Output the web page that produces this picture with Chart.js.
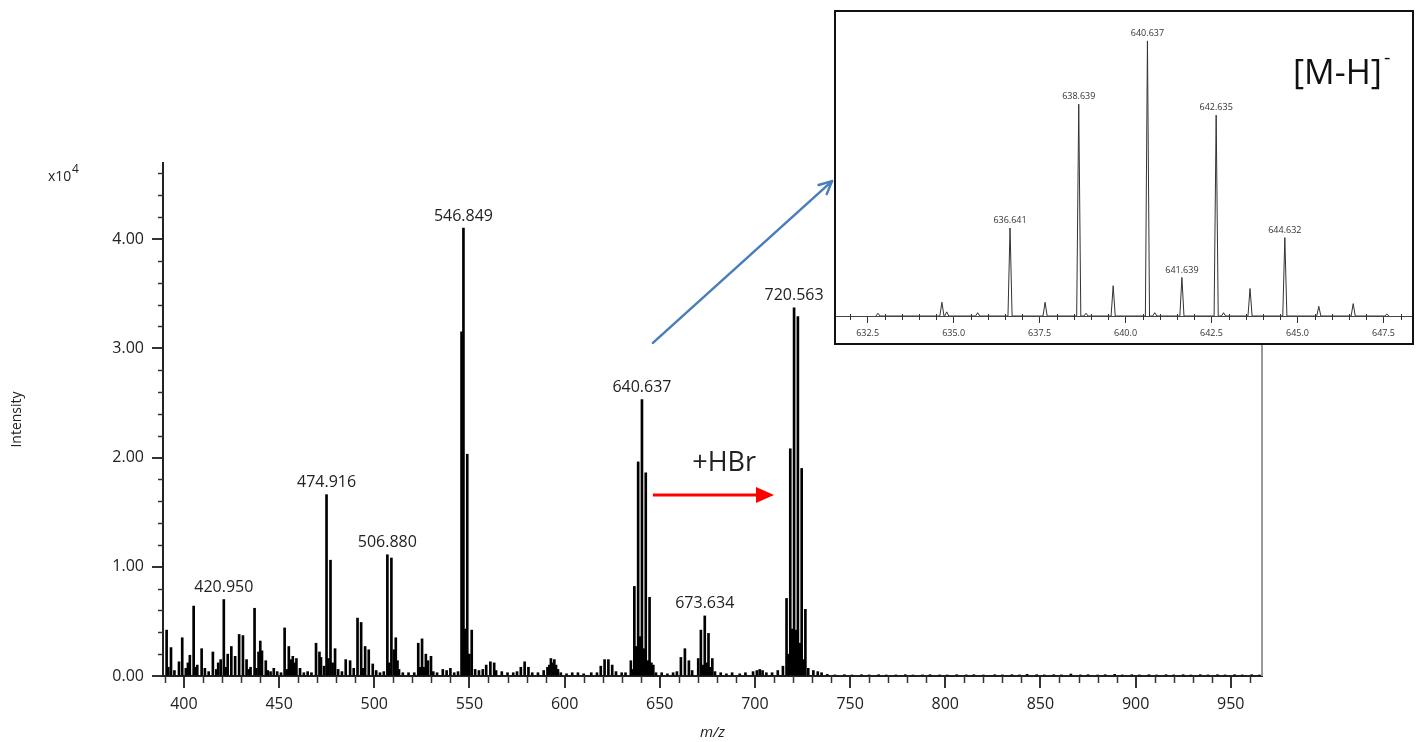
<!DOCTYPE html>
<html>
<head>
<meta charset="utf-8">
<script src="https://cdn.jsdelivr.net/npm/chart.js@4.4.1/dist/chart.umd.min.js"></script>
<style>
  body { margin: 0; background: #fff; }
  #wrap { position: relative; width: 1422px; height: 742px; }
  #main { position: absolute; left: 0; top: 0; }
  #insetBox { position: absolute; left: 834px; top: 10px; width: 580px; height: 335px;
              border: 2px solid #111; box-sizing: border-box; background: #fff; }
</style>
</head>
<body>
<div id="wrap">
  <canvas id="main" width="1422" height="742"></canvas>
  <div id="insetBox"><canvas id="inset" width="576" height="331"></canvas></div>
</div>
<script>
// main spectrum: m/z and intensity (x10^4)
const mainMz = [
  390.9, 391.8, 393.2, 395.0, 397.4, 399.1, 401.0, 402.1, 403.1, 405.1, 406.2, 407.0, 409.3, 411.0, 413.0,
  415.2, 417.0, 418.0, 419.3, 420.950, 421.9, 423.0, 424.9, 426.9, 429.0, 431.0, 432.9, 434.0, 435.0, 437.1,
  438.0, 439.2, 440.1, 441.0, 443.0, 444.0, 445.5, 447.2, 449.0, 451.0, 452.9, 454.0, 455.1, 456.2, 457.2,
  458.1, 459.1, 461.0, 463.0, 465.0, 467.0, 469.4, 471.2, 472.0, 473.6, 474.916, 475.9, 477.0, 478.1, 479.4,
  481.0, 483.0, 485.0, 487.3, 489.2, 491.2, 493.1, 494.0, 495.2, 497.1, 499.2, 501.0, 503.0, 505.0, 506.880,
  507.9, 509.0, 510.3, 511.3, 512.2, 513.0, 515.0, 518.0, 521.0, 523.1, 524.0, 525.1, 526.0, 527.1, 528.2,
  529.8, 531.0, 533.0, 536.0, 538.0, 540.0, 542.0, 544.0, 545.85, 546.3, 546.849, 547.4, 547.85, 548.85, 549.3,
  550.0, 551.2, 553.0, 555.0, 557.0, 558.8, 561.0, 563.0, 564.0, 567.0, 570.0, 573.0, 575.0, 577.0, 579.0,
  581.0, 583.0, 586.0, 589.0, 591.0, 592.0, 592.8, 593.7, 594.6, 595.5, 596.5, 598.0, 601.0, 604.0, 607.0,
  610.0, 614.0, 617.0, 619.0, 621.0, 623.0, 625.0, 627.0, 630.0, 632.0, 634.8, 635.6, 636.641, 637.64, 638.639,
  639.64, 640.637, 641.64, 642.635, 643.64, 644.632, 645.6, 646.6, 648.0, 651.0, 654.0, 657.0, 659.0, 661.1,
  663.2, 665.3, 667.0, 670.2, 671.6, 672.6, 673.634, 674.6, 675.6, 676.6, 677.6, 679.0, 682.0, 685.0, 688.0,
  692.0, 695.0, 699.0, 701.0, 702.5, 704.0, 706.0, 709.0, 712.0, 714.7, 716.6, 717.6, 718.56, 719.6, 720.563,
  721.6, 722.56, 723.6, 724.56, 725.6, 726.5, 728.0, 730.7, 733.0, 735.0, 738.0, 742.0, 747.0, 751.0, 756.0,
  760.0, 765.0, 769.0, 774.0, 779.0, 783.0, 788.0, 792.0, 797.0, 801.0, 806.0, 811.0, 815.0, 820.0, 826.0,
  830.0, 835.0, 839.0, 843.0, 848.0, 852.0, 857.0, 861.0, 866.0, 871.0, 875.0, 880.0, 884.0, 889.0, 893.0,
  898.0, 902.0, 907.0, 911.0, 916.0, 920.0, 925.0, 929.0, 934.0, 938.0, 943.0, 947.0, 952.0, 956.0, 961.0, 965.0
];
const mainInt = [
  0.42, 0.08, 0.26, 0.05, 0.13, 0.35, 0.07, 0.12, 0.19, 0.64, 0.08, 0.10, 0.25, 0.07, 0.04,
  0.22, 0.06, 0.12, 0.15, 0.70, 0.08, 0.20, 0.27, 0.18, 0.38, 0.37, 0.15, 0.06, 0.08, 0.62,
  0.07, 0.22, 0.32, 0.23, 0.14, 0.05, 0.04, 0.07, 0.04, 0.03, 0.44, 0.06, 0.27, 0.15, 0.18,
  0.12, 0.16, 0.07, 0.03, 0.04, 0.03, 0.30, 0.22, 0.17, 0.09, 1.66, 0.16, 1.06, 0.12, 0.25,
  0.06, 0.04, 0.15, 0.14, 0.07, 0.53, 0.49, 0.07, 0.27, 0.24, 0.11, 0.05, 0.03, 0.04, 1.11,
  0.12, 1.08, 0.24, 0.35, 0.14, 0.06, 0.03, 0.03, 0.03, 0.30, 0.08, 0.34, 0.08, 0.20, 0.14,
  0.18, 0.04, 0.03, 0.06, 0.05, 0.07, 0.03, 0.04, 3.15, 0.34, 4.10, 0.36, 0.43, 2.03, 0.20,
  0.20, 0.42, 0.06, 0.05, 0.06, 0.10, 0.13, 0.12, 0.05, 0.04, 0.03, 0.03, 0.04, 0.08, 0.13,
  0.08, 0.03, 0.03, 0.05, 0.08, 0.10, 0.16, 0.12, 0.15, 0.10, 0.06, 0.03, 0.02, 0.03, 0.03,
  0.02, 0.03, 0.03, 0.09, 0.15, 0.15, 0.10, 0.04, 0.03, 0.03, 0.14, 0.06, 0.82, 0.27, 1.96,
  0.36, 2.53, 0.25, 1.86, 0.14, 0.72, 0.12, 0.10, 0.03, 0.03, 0.02, 0.03, 0.04, 0.17,
  0.25, 0.14, 0.05, 0.16, 0.42, 0.10, 0.55, 0.12, 0.39, 0.08, 0.16, 0.04, 0.03, 0.02, 0.03,
  0.02, 0.03, 0.04, 0.05, 0.06, 0.05, 0.03, 0.03, 0.05, 0.09, 0.71, 0.20, 2.08, 0.43, 3.37,
  0.42, 3.29, 0.30, 1.90, 0.15, 0.61, 0.07, 0.05, 0.04, 0.03, 0.015, 0.01, 0.012, 0.008, 0.012,
  0.01, 0.012, 0.008, 0.01, 0.012, 0.008, 0.01, 0.012, 0.01, 0.008, 0.012, 0.01, 0.012, 0.008, 0.012,
  0.01, 0.012, 0.01, 0.015, 0.012, 0.01, 0.012, 0.01, 0.018, 0.01, 0.012, 0.008, 0.012, 0.015, 0.01,
  0.012, 0.01, 0.012, 0.008, 0.012, 0.01, 0.012, 0.008, 0.012, 0.01, 0.012, 0.01, 0.012, 0.01, 0.012, 0.008
];
const mainLabels = [420.950, 474.916, 506.880, 546.849, 640.637, 673.634, 720.563];
const xTicks = [400, 450, 500, 550, 600, 650, 700, 750, 800, 850, 900, 950];
const yTicks = [0, 1, 2, 3, 4];

// inset: [M-H]- isotope cluster, relative intensity (%)
const insetMz  = [632.8, 634.66, 634.8, 635.7, 636.641, 637.66, 638.639, 638.85, 639.64, 640.637, 640.85,
                  641.639, 642.635, 642.85, 643.62, 644.632, 645.62, 646.62, 647.6];
const insetInt = [1.0, 5.0, 1.5, 1.2, 32, 5.0, 77, 1.0, 11, 100, 1.2, 14, 73, 1.2, 10, 28.5, 3.5, 4.5, 0.7];
const insetLabels = [636.641, 638.639, 640.637, 641.639, 642.635, 644.632];
const insetTicks = [632.5, 635.0, 637.5, 640.0, 642.5, 645.0, 647.5];

Chart.defaults.font.family = '"Open Sans", "Noto Sans", sans-serif';
Chart.defaults.color = '#222';

function line(ctx, x1, y1, x2, y2) {
  ctx.beginPath(); ctx.moveTo(x1, y1); ctx.lineTo(x2, y2); ctx.stroke();
}

const mainDeco = {
  id: 'mainDeco',
  beforeDatasetsDraw(chart) {
    const { ctx, chartArea: a } = chart;
    ctx.save();
    ctx.strokeStyle = '#999'; ctx.lineWidth = 2;
    line(ctx, a.right, a.top, a.right, a.bottom);
    ctx.restore();
  },
  afterDraw(chart) {
    const { ctx, chartArea: a, scales: { x, y } } = chart;
    ctx.save();
    // minor ticks
    ctx.strokeStyle = '#333'; ctx.lineWidth = 1.5;
    for (let v = 390; v <= 966; v += 10) {
      if (v % 50 === 0) continue;
      const px = Math.round(x.getPixelForValue(v)) + 0.5;
      line(ctx, px, a.bottom, px, a.bottom + 7);
    }
    for (let k = 1; k <= 23; k++) {
      if (k % 5 === 0) continue;
      const py = Math.round(y.getPixelForValue(k * 0.2)) + 0.5;
      line(ctx, a.left - 5, py, a.left, py);
    }
    // peak labels
    ctx.fillStyle = '#222';
    ctx.font = '16px "Open Sans"';
    ctx.textAlign = 'center'; ctx.textBaseline = 'bottom';
    mainLabels.forEach(m => {
      const i = mainMz.indexOf(m);
      ctx.fillText(m.toFixed(3), x.getPixelForValue(m), y.getPixelForValue(mainInt[i]) - 4);
    });
    // x10^4
    ctx.textAlign = 'left'; ctx.textBaseline = 'alphabetic';
    ctx.font = '14px "Open Sans"';
    ctx.fillText('x10', 48, 181);
    ctx.font = '12px "Open Sans"';
    ctx.fillText('4', 72, 173);
    // +HBr
    ctx.font = '27px "Open Sans"';
    ctx.textAlign = 'center'; ctx.textBaseline = 'middle';
    ctx.fillText('+HBr', x.getPixelForValue(683.8), y.getPixelForValue(1.95));
    // red arrow
    const rx1 = x.getPixelForValue(646.4), rx2 = x.getPixelForValue(710.0), ry = y.getPixelForValue(1.657);
    ctx.strokeStyle = '#ff0000'; ctx.fillStyle = '#ff0000'; ctx.lineWidth = 3;
    line(ctx, rx1, ry, rx2 - 14, ry);
    ctx.beginPath(); ctx.moveTo(rx2, ry); ctx.lineTo(rx2 - 18, ry - 8); ctx.lineTo(rx2 - 18, ry + 8); ctx.closePath(); ctx.fill();
    // blue arrow to inset
    const bx1 = x.getPixelForValue(646.4), by1 = y.getPixelForValue(3.05);
    const bx2 = x.getPixelForValue(740.5), by2 = y.getPixelForValue(4.53);
    ctx.strokeStyle = '#4a7ebb'; ctx.lineWidth = 2.5; ctx.lineCap = 'round';
    line(ctx, bx1, by1, bx2, by2);
    const ang = Math.atan2(by2 - by1, bx2 - bx1);
    [0.45, -0.45].forEach(d => {
      line(ctx, bx2, by2, bx2 - 14 * Math.cos(ang + d), by2 - 14 * Math.sin(ang + d));
    });
    ctx.restore();
  }
};

new Chart(document.getElementById('main'), {
  type: 'bar',
  data: {
    datasets: [{
      data: mainMz.map((m, i) => ({ x: m, y: mainInt[i] })),
      backgroundColor: '#000',
      borderWidth: 0,
      barThickness: 2
    }]
  },
  options: {
    responsive: false,
    animation: false,
    devicePixelRatio: 1,
    layout: { padding: { left: 0, right: 160, top: 163, bottom: 0 } },
    plugins: { legend: { display: false }, tooltip: { enabled: false } },
    scales: {
      x: {
        type: 'linear', min: 389, max: 966.4, offset: false,
        afterBuildTicks: s => { s.ticks = xTicks.map(v => ({ value: v })); },
        afterFit: s => { s.height = 66; },
        grid: { offset: false, drawOnChartArea: false, drawTicks: true, tickLength: 12, color: '#333', lineWidth: 2 },
        border: { display: true, color: '#222', width: 2 },
        ticks: { font: { size: 16 }, color: '#222', padding: 7, maxRotation: 0, autoSkip: false,
                 callback: v => String(v) },
        title: { display: true, text: 'm/z', font: { size: 15, style: 'italic' }, color: '#222',
                 padding: { top: 0, bottom: 0 } }
      },
      y: {
        min: 0, max: 4.696,
        afterBuildTicks: s => { s.ticks = yTicks.map(v => ({ value: v })); },
        afterFit: s => { s.width = 163; },
        grid: { offset: false, drawOnChartArea: false, drawTicks: true, tickLength: 11, color: '#333', lineWidth: 2 },
        border: { display: true, color: '#222', width: 2 },
        ticks: { font: { size: 16 }, color: '#222', padding: 8, callback: v => v.toFixed(2) },
        title: { display: true, text: 'Intensity', font: { size: 14 }, color: '#222',
                 padding: { top: 9, bottom: 0 } }
      }
    }
  },
  plugins: [mainDeco]
});

// inset chart
const insetPoints = [];
insetMz.forEach((m, i) => {
  insetPoints.push({ x: m - 0.06, y: 0 }, { x: m, y: insetInt[i] }, { x: m + 0.06, y: 0 });
});

const insetDeco = {
  id: 'insetDeco',
  afterDraw(chart) {
    const { ctx, chartArea: a, scales: { x, y } } = chart;
    ctx.save();
    ctx.strokeStyle = '#333'; ctx.lineWidth = 1;
    for (let v = 632.0; v <= 648.0; v += 0.5) {
      if (insetTicks.includes(v)) continue;
      const px = Math.round(x.getPixelForValue(v)) + 0.5;
      line(ctx, px, a.bottom - 2, px, a.bottom + 4);
    }
    ctx.fillStyle = '#333';
    ctx.font = '9px "Open Sans"';
    ctx.textAlign = 'center'; ctx.textBaseline = 'bottom';
    insetLabels.forEach(m => {
      const i = insetMz.indexOf(m);
      ctx.fillText(m.toFixed(3), x.getPixelForValue(m), y.getPixelForValue(insetInt[i]) - 3);
    });
    // [M-H]-
    ctx.fillStyle = '#111';
    ctx.textAlign = 'left'; ctx.textBaseline = 'alphabetic';
    ctx.font = '34px "Open Sans"';
    ctx.fillText('[M-H]', 457, 72);
    ctx.font = '20px "Open Sans"';
    ctx.fillText('-', 548, 52);
    ctx.restore();
  }
};

new Chart(document.getElementById('inset'), {
  type: 'line',
  data: {
    datasets: [{
      data: insetPoints,
      borderColor: '#333',
      borderWidth: 1,
      pointRadius: 0,
      tension: 0,
      fill: false
    }]
  },
  options: {
    responsive: false,
    animation: false,
    devicePixelRatio: 1,
    layout: { padding: 0 },
    plugins: { legend: { display: false }, tooltip: { enabled: false } },
    scales: {
      x: {
        type: 'linear', min: 631.58, max: 648.33,
        afterBuildTicks: s => { s.ticks = insetTicks.map(v => ({ value: v })); },
        afterFit: s => { s.height = 27; },
        grid: { drawOnChartArea: false, drawTicks: true, tickLength: 7, color: '#333', lineWidth: 1 },
        border: { display: true, color: '#444', width: 1 },
        ticks: { font: { size: 9 }, color: '#333', padding: 5, maxRotation: 0, autoSkip: false,
                 callback: v => v.toFixed(1) }
      },
      y: { display: false, min: 0, max: 110.5 }
    }
  },
  plugins: [insetDeco]
});
</script>
</body>
</html>
